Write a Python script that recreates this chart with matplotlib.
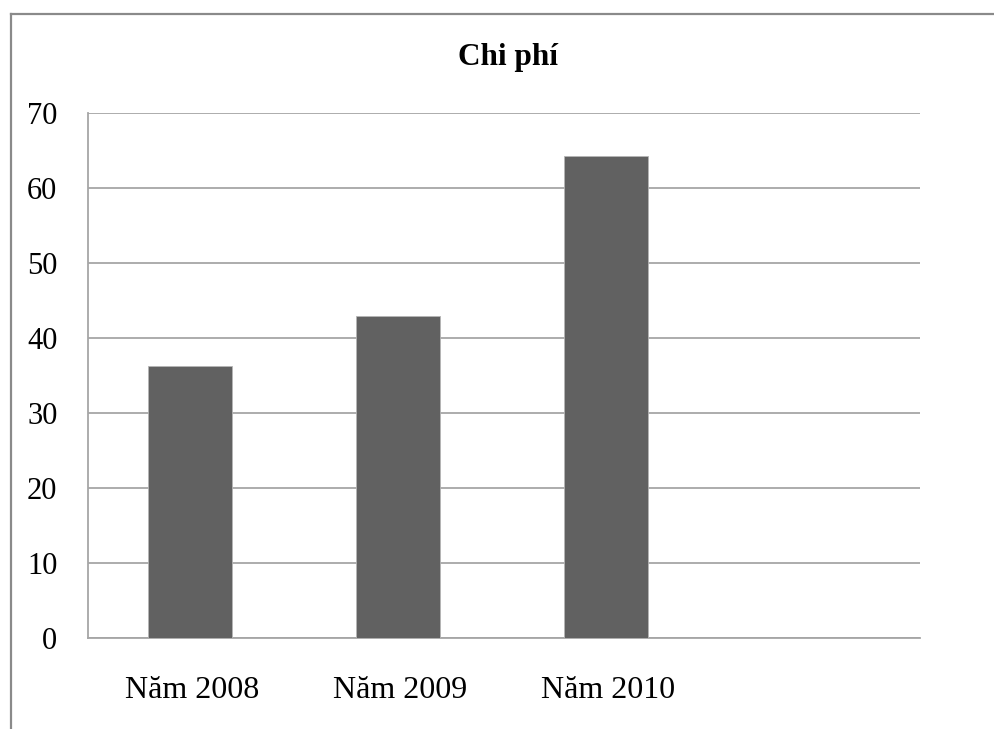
import matplotlib
matplotlib.use("Agg")
import matplotlib.pyplot as plt
from matplotlib.lines import Line2D
import numpy as np

categories = ["Năm 2008", "Năm 2009", "Năm 2010", ""]
values = [36.3, 43.0, 64.3, np.nan]
yticks = [0, 10, 20, 30, 40, 50, 60, 70]
title = "Chi phí"

plt.rcParams['font.family'] = ['Liberation Serif', 'DejaVu Serif']

W, H = 994, 729
fig = plt.figure(figsize=(W / 100, H / 100), dpi=100)
ax = fig.add_axes([88 / W, 1 - 638 / H, (920 - 88) / W, (638 - 113) / H])

x = np.arange(len(categories))
ax.bar(x - 0.01, values, width=0.4, color="#616161", edgecolor="#b5b5b5", linewidth=0.6, zorder=3)

ax.set_xlim(-0.5, len(categories) - 0.5)
ax.set_ylim(0, 70)
ax.set_yticks(yticks)
ax.set_yticklabels([str(v) for v in yticks], fontsize=22)
ax.set_xticks(x)
ax.set_xticklabels(categories, fontsize=23)
ax.tick_params(axis='both', length=0)
ax.tick_params(axis='y', pad=22)
ax.tick_params(axis='x', pad=27)

ax.yaxis.grid(True, color="#a6a6a6", linewidth=1.3, zorder=0)
ax.set_axisbelow(True)
for s in ["top", "right"]:
    ax.spines[s].set_visible(False)
for s in ["left", "bottom"]:
    ax.spines[s].set_color("#a6a6a6")
    ax.spines[s].set_linewidth(1.3)

fig.text(508 / W, 1 - 57 / H, title, ha="center", va="center", fontsize=22.5, fontweight="bold")

# outer chart border (left and top visible)
fig.add_artist(Line2D([11 / W, 11 / W], [0, 1 - 14 / H], transform=fig.transFigure, color="#8a8a8a", linewidth=1.6))
fig.add_artist(Line2D([11 / W, 1], [1 - 14 / H, 1 - 14 / H], transform=fig.transFigure, color="#8a8a8a", linewidth=1.6))

fig.savefig("out.png", dpi=100)
